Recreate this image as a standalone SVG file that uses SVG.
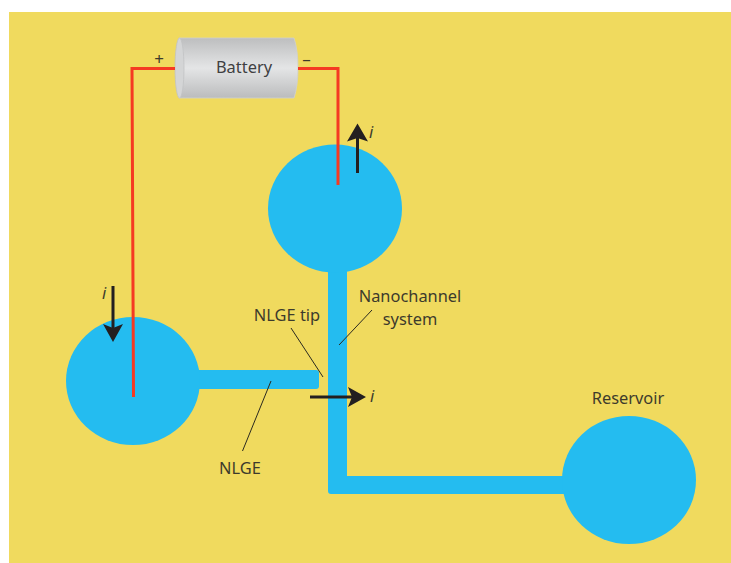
<svg xmlns="http://www.w3.org/2000/svg" width="731" height="563" viewBox="0 0 731 563">
<style>
.blue{fill:#24bcf0}
.wire{fill:none;stroke:#f53a22;stroke-width:3;stroke-linejoin:miter}
.leader{fill:none;stroke:#2b2a20;stroke-width:1}
.arrow{fill:none;stroke:#231f20;stroke-width:3}
.head{fill:#231f20}
text{font-family:"Noto Sans","Open Sans",sans-serif;font-size:16.400px;fill:#3d3a2c;text-anchor:middle}
.it{font-style:italic}
</style>
<defs>
<linearGradient id="bat" x1="0" y1="0" x2="0" y2="1">
<stop offset="0" stop-color="#bdbebf"/>
<stop offset="0.5" stop-color="#e4e5e6"/>
<stop offset="1" stop-color="#bbbcbd"/>
</linearGradient>
</defs>
<rect width="731" height="563" fill="#ffffff"/>
<rect x="9" y="12" width="722" height="551" fill="#f0da5e"/>
<g id="nanochannel"><path class="blue" d="M328 262H347V476H575V494H331Q328 494 328 491Z"/></g>
<g id="nlge"><path class="blue" d="M190 370H316Q319 370 319 373V386Q319 389 316 389H190Z"/></g>
<g id="top-reservoir"><ellipse class="blue" cx="335" cy="208.500" rx="67" ry="64"/></g>
<g id="left-reservoir"><ellipse class="blue" cx="133" cy="381" rx="67" ry="64"/></g>
<g id="right-reservoir"><ellipse class="blue" cx="629" cy="480" rx="67" ry="64"/></g>
<g id="battery">
<path d="M179 38H294Q298 50 298 68Q298 86 294 98H179Z" fill="url(#bat)" stroke="#cfd0d0" stroke-width="0.800"/>
<ellipse cx="179.500" cy="68" rx="4.500" ry="30" fill="#d4d5d6" stroke="#c2c3c4" stroke-width="0.800"/>
<text x="244" y="73" style="fill:#3f4042">Battery</text>
</g>
<g id="connectors">
<path class="wire" d="M175 68.500H132L133.500 397"/>
<path class="wire" d="M298 68.500H338V185"/>
<path class="leader" d="M291 328L323 377"/>
<path class="leader" d="M372 310L339 345"/>
<path class="leader" d="M271 381L242.500 451"/>
<path class="arrow" d="M357.500 173V135"/>
<path class="head" d="M357.500 123.500L368 141.500L357.500 138L347 141.500Z"/>
<path class="arrow" d="M113 286V330"/>
<path class="head" d="M113 342L103 324L113 328L123 324Z"/>
<path class="arrow" d="M310 397H355"/>
<path class="head" d="M366 397L348 387L352 397L348 407Z"/>
</g>
<g id="labels">
<text x="159" y="65" style="font-size:17px">+</text>
<text x="306.500" y="65" style="font-size:17px">–</text>
<text class="it" x="371" y="138">i</text>
<text class="it" x="104" y="299">i</text>
<text class="it" x="372" y="402">i</text>
<text x="287" y="321">NLGE tip</text>
<text x="410" y="302">Nanochannel</text>
<text x="410" y="325">system</text>
<text x="240" y="474">NLGE</text>
<text x="628" y="404">Reservoir</text>
</g>
</svg>
